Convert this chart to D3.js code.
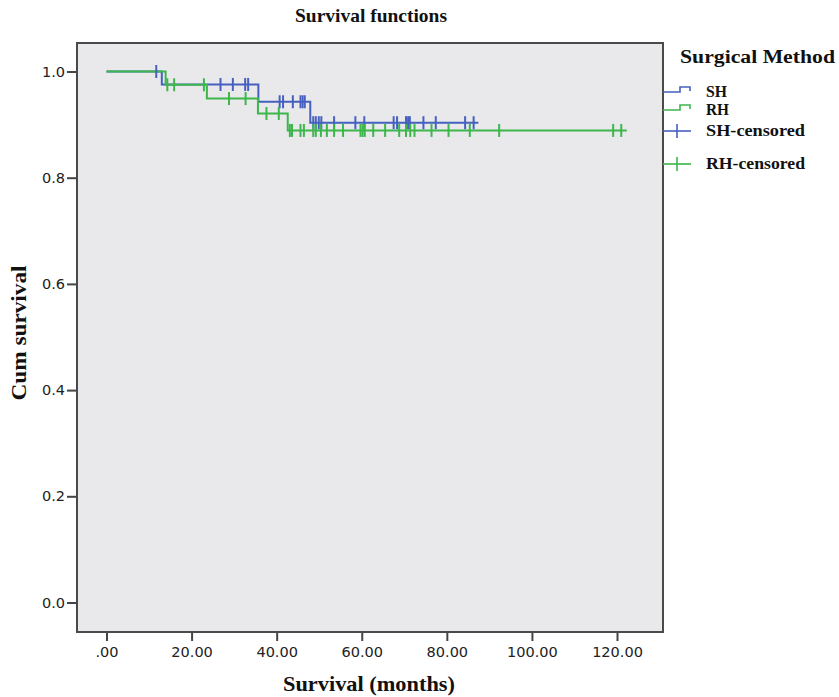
<!DOCTYPE html>
<html>
<head>
<meta charset="utf-8">
<script src="https://cdn.jsdelivr.net/npm/d3@7"></script>
<style>
  body { margin: 0; background: #fff; }
  svg { display: block; }
  .tick text { font-family: "DejaVu Sans", sans-serif; font-size: 14.5px; fill: #222; }
  .serif { font-family: "Liberation Serif", "Times New Roman", serif; font-weight: bold; fill: #111; }
</style>
</head>
<body>
<svg width="839" height="697"></svg>
<script>
// survival step values
const shEventTimes = [13.0, 35.7, 47.9];
const shEventSurv  = [0.9756, 0.943, 0.9036];
const shCensored   = [11.7, 26.8, 29.7, 32.6, 33.3, 40.7, 41.5, 43.8, 45.6, 46.1, 46.6,
                      48.6, 49.2, 49.9, 50.5, 53.5, 58.5, 60.6, 67.5, 68.3, 70.4, 70.9,
                      71.3, 74.5, 77.4, 84.3, 86.3];
const shEnd = 87.4;

const rhEventTimes = [13.9, 23.6, 35.6, 42.6];
const rhEventSurv  = [0.975, 0.949, 0.921, 0.889];
const rhCensored   = [14.3, 15.9, 22.9, 28.8, 32.7, 37.6, 40.5, 43.1, 43.6, 45.6, 46.4,
                      48.6, 49.2, 50.4, 51.8, 53.5, 55.6, 59.7, 60.2, 60.7, 62.7, 65.5,
                      68.8, 70.4, 71.4, 72.4, 76.4, 80.4, 85.4, 92.3, 119.1, 121.0];
const rhEnd = 122.3;

const xTicks = [0, 20, 40, 60, 80, 100, 120];
const yTicks = [0, 0.2, 0.4, 0.6, 0.8, 1.0];
const legendNames = ["SH", "RH", "SH-censored", "RH-censored"];

const blue = "#4660c0", green = "#3db64c";

let svg = d3.select("svg");

// frame of the plot area
const frame = {left: 77, right: 663, top: 43, bottom: 632};
let x = d3.scaleLinear().domain([0, 120]).range([106.5, 617]);
let y = d3.scaleLinear().domain([0, 1]).range([602.5, 71.5]);

svg.append("rect")
    .attr("x", frame.left).attr("y", frame.top)
    .attr("width", frame.right - frame.left).attr("height", frame.bottom - frame.top)
    .attr("fill", "#e9e9eb");

// axes
let xAxis = svg.append("g")
    .attr("transform", `translate(0,${frame.bottom})`)
    .call(d3.axisBottom(x).tickValues(xTicks).tickSize(9).tickPadding(6)
        .tickFormat(d => d === 0 ? ".00" : d3.format(".2f")(d)));
let yAxis = svg.append("g")
    .attr("transform", `translate(${frame.left},0)`)
    .call(d3.axisLeft(y).tickValues(yTicks).tickSize(10).tickPadding(2)
        .tickFormat(d3.format(".1f")));
[xAxis, yAxis].forEach(function (g) {
    g.select(".domain").remove();
    g.selectAll(".tick line").attr("stroke", "#444").attr("stroke-width", 2);
});

svg.append("rect")
    .attr("x", frame.left).attr("y", frame.top)
    .attr("width", frame.right - frame.left).attr("height", frame.bottom - frame.top)
    .attr("fill", "none").attr("stroke", "#4a4a4a").attr("stroke-width", 2);

function survAt(times, surv, t) {
    let s = 1;
    for (let i = 0; i < times.length; i++) {
        if (times[i] <= t) s = surv[i];
    }
    return s;
}

let line = d3.line()
    .x(function (d) { return x(d[0]); })
    .y(function (d) { return y(d[1]); })
    .curve(d3.curveStepAfter);

function drawCurve(times, surv, end, color) {
    let pts = [[0, 1]];
    times.forEach(function (t, i) { pts.push([t, surv[i]]); });
    pts.push([end, surv[surv.length - 1]]);
    svg.append("path")
        .datum(pts)
        .attr("d", line)
        .attr("fill", "none")
        .attr("stroke", color)
        .attr("stroke-width", 2);
}

function drawCensored(times, surv, censored, color) {
    svg.append("g")
        .selectAll("line")
        .data(censored)
        .enter().append("line")
        .attr("x1", function (d) { return x(d); })
        .attr("x2", function (d) { return x(d); })
        .attr("y1", function (d) { return y(survAt(times, surv, d)) - 6.5; })
        .attr("y2", function (d) { return y(survAt(times, surv, d)) + 6.5; })
        .attr("stroke", color)
        .attr("stroke-width", 2);
}

drawCurve(shEventTimes, shEventSurv, shEnd, blue);
drawCurve(rhEventTimes, rhEventSurv, rhEnd, green);
drawCensored(shEventTimes, shEventSurv, shCensored, blue);
drawCensored(rhEventTimes, rhEventSurv, rhCensored, green);

// titles (the reference text is a bit wider than Liberation Serif, so stretch it)
function serifText(px, py, size, len, str, rotate) {
    let t = svg.append("text").attr("class", "serif")
        .attr("text-anchor", "middle")
        .attr("textLength", len).attr("lengthAdjust", "spacingAndGlyphs")
        .style("font-size", size + "px").text(str);
    if (rotate) t.attr("transform", `translate(${px},${py}) rotate(-90)`);
    else t.attr("x", px).attr("y", py);
    return t;
}
serifText(371, 22, 19, 152, "Survival functions");
serifText(369, 691, 21, 172, "Survival (months)");
serifText(26, 333, 21, 135, "Cum survival", true);

// legend
let lg = svg.append("g");
lg.append("text").attr("class", "serif")
    .attr("x", 680).attr("y", 63).style("font-size", "18px")
    .attr("textLength", 155).attr("lengthAdjust", "spacingAndGlyphs")
    .text("Surgical Method");

const legendY = [92, 110, 131, 164];
const legendColors = [blue, green, blue, green];
const legendLen = [21, 23, 99, 99];
legendNames.forEach(function (name, i) {
    let cy = legendY[i];
    if (i < 2) {
        lg.append("path")
            .attr("d", `M663,${cy} H680 V${cy - 5} H690 V${cy - 1}`)
            .attr("fill", "none").attr("stroke", legendColors[i]).attr("stroke-width", 1.6);
    } else {
        lg.append("line").attr("x1", 663).attr("x2", 691).attr("y1", cy).attr("y2", cy)
            .attr("stroke", legendColors[i]).attr("stroke-width", 1.6);
        lg.append("line").attr("x1", 677).attr("x2", 677).attr("y1", cy - 7).attr("y2", cy + 7)
            .attr("stroke", legendColors[i]).attr("stroke-width", 1.6);
    }
    lg.append("text").attr("class", "serif")
        .attr("x", 706).attr("y", cy + 5).style("font-size", "17px")
        .attr("textLength", legendLen[i]).attr("lengthAdjust", "spacingAndGlyphs")
        .text(name);
});
</script>
</body>
</html>
